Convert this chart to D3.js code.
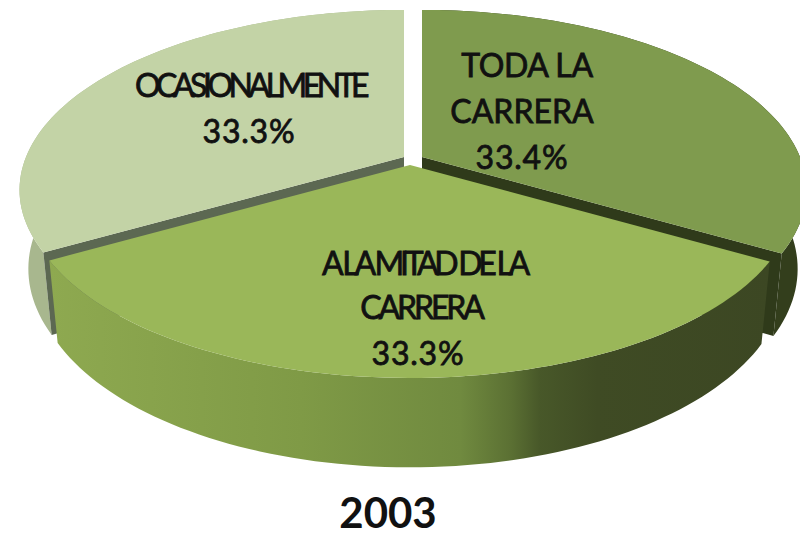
<!DOCTYPE html>
<html><head><meta charset="utf-8">
<style>html,body{margin:0;padding:0;background:#fff}svg{display:block}text{font-family:Lato,"Open Sans",sans-serif;fill:#111;text-anchor:middle}</style>
<script src="https://cdn.jsdelivr.net/npm/d3@7/dist/d3.min.js"></script>
</head><body><svg id="c" width="800" height="537"></svg>
<script>
const categories = ["TODA LA|CARRERA", "A LA MITAD DE LA|CARRERA", "OCASIONALMENTE"];
const values = [33.4, 33.3, 33.3];
const chartTitle = "2003";
const topColors = ["#7f9b4e", "#9ab759", "#c3d3a6"];
const rimColors = ["#333e1c", "url(#rimMid)", "#a8b78e"];
const wallColors = ["#2f3a1a", null, "#5c6852"];
const origins = [[422, 157], [410, 165], [404, 157]];
const labelLayout = [
  {xs: [527, 522, 522], ys: [77, 123, 169], ls: [-0.4, 0, 0.8]},
  {xs: [424, 421, 418], ys: [275, 319, 365], ls: [-4.3, -3.1, 0.8]},
  {xs: [250, 249], ys: [97, 143], ls: [-4.5, 0.8]}
];

const svg = d3.select("#c");
const defs = svg.append("defs");
const g = defs.append("linearGradient").attr("id", "rimMid")
  .attr("gradientUnits", "userSpaceOnUse").attr("x1", 50).attr("x2", 770).attr("y1", 0).attr("y2", 0);
[[0, "#8ea950"], [0.35, "#7f9a46"], [0.57, "#708a3f"], [0.64, "#5b7033"], [0.68, "#485829"], [0.76, "#3f4b24"], [1, "#3c4723"]]
  .forEach(([o, c]) => g.append("stop").attr("offset", o).attr("stop-color", c));

const pie = d3.pie().sort(null).value(d => d);
const arcs = pie(values);

const p = 0.183, R = 378, Ry = 174, D = 77, S = 0.977;
function project(o, a, r, low) {
  const u = Math.sin(a) * r, v = -Math.cos(a) * r, w = 1 - p * v;
  const s = low ? S : 1;
  return [o[0] + R * u / w * s, o[1] + Ry * v / w * s + (low ? D / w : 0)];
}
const line = d3.line();
function arcPts(o, d, low) {
  const t = d3.scaleLinear().domain([0, 80]).range([d.startAngle, d.endAngle]);
  return d3.range(81).map(i => project(o, t(i), 1, low));
}
function drawSlice(i) {
  const d = arcs[i], o = origins[i];
  const top = arcPts(o, d, false), bot = arcPts(o, d, true);
  svg.append("path").attr("d", line(top.concat(bot.slice().reverse())) + "Z").attr("fill", rimColors[i]);
  if (wallColors[i]) {
    const a = i === 0 ? d.endAngle : d.startAngle;
    const pts = [project(o, a, 0, false), project(o, a, 1, false), project(o, a, 1, true), project(o, a, 0, true)];
    svg.append("path").attr("d", line(pts) + "Z").attr("fill", wallColors[i]);
  }
  svg.append("path").attr("d", line([project(o, 0, 0, false)].concat(top)) + "Z").attr("fill", topColors[i]);
}
[2, 0, 1].forEach(drawSlice);

const pct = d3.format(".1f");
categories.forEach((c, i) => {
  const lines = c.split("|").concat(pct(values[i]) + "%");
  const L = labelLayout[i];
  lines.forEach((t, j) => {
    svg.append("text").attr("x", L.xs[j]).attr("y", L.ys[j])
      .attr("font-size", 32).attr("letter-spacing", L.ls[j])
      .attr("stroke", "#111").attr("stroke-width", 0.8).text(t);
  });
});
svg.append("text").attr("x", 388).attr("y", 528).attr("font-size", 42).attr("font-weight", 700).text(chartTitle);
</script></body></html>
